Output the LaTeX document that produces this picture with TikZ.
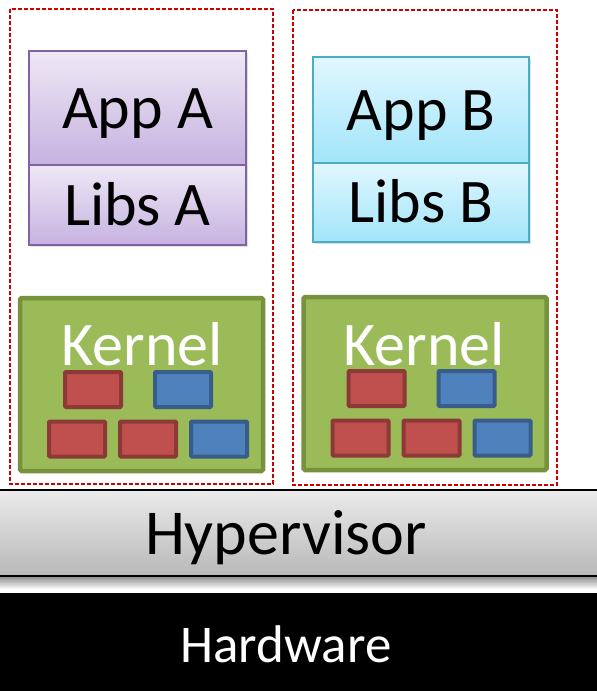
\documentclass[tikz,border=0pt]{standalone}
\usepackage{fontspec}
\setmainfont{Carlito}
\usetikzlibrary{positioning, shadows, calc}

\definecolor{vmred}{HTML}{CC0000}
\definecolor{appAtop}{HTML}{EEE8F6}
\definecolor{appAbot}{HTML}{C6B2E0}
\definecolor{appAline}{HTML}{8064A2}
\definecolor{appBtop}{HTML}{E0F7FE}
\definecolor{appBbot}{HTML}{A2E5FA}
\definecolor{appBline}{HTML}{4BACC6}
\definecolor{kerfill}{HTML}{9BBB59}
\definecolor{kerline}{HTML}{76923C}
\definecolor{redfill}{HTML}{C0504D}
\definecolor{redline}{HTML}{8C3A38}
\definecolor{bluefill}{HTML}{4F81BD}
\definecolor{blueline}{HTML}{385D8A}
\definecolor{hyptop}{HTML}{EBEBEB}
\definecolor{hypbot}{HTML}{B8B8B8}

\begin{document}
\begin{tikzpicture}[x=1pt, y=-1pt,
    big/.style={font=\fontsize{62}{62}\selectfont, text height=40pt, text depth=0pt},
    vmbox/.style={draw=vmred, line width=1.3pt, dash pattern=on 4pt off 2pt},
    appa/.style={big, draw=appAline, line width=1.5pt, top color=appAtop, bottom color=appAbot,
        inner sep=0pt, outer sep=0pt, minimum width=217pt,
        drop shadow={opacity=0.25, shadow xshift=2pt, shadow yshift=-2pt}},
    appb/.style={big, draw=appBline, line width=1.5pt, top color=appBtop, bottom color=appBbot,
        inner sep=0pt, outer sep=0pt, minimum width=216pt,
        drop shadow={opacity=0.25, shadow xshift=2pt, shadow yshift=-2pt}},
    kernel/.style={draw=kerline, fill=kerfill, line width=4.5pt, rounded corners=1.5pt,
        minimum width=243pt, minimum height=173pt, inner sep=0pt},
    kertext/.style={font=\fontsize{62}{62}\selectfont, text=white, anchor=base, inner sep=0pt},
    redblk/.style={draw=redline, fill=redfill, line width=4pt, rounded corners=1pt,
        minimum width=56pt, minimum height=35pt, inner sep=0pt},
    blueblk/.style={redblk, draw=blueline, fill=bluefill},
]
\useasboundingbox (0,0) rectangle (597,691);

% the two virtual machines
\draw[vmbox] (10,9) rectangle (273,484);
\draw[vmbox] (293,10) rectangle (557,485);

% user space of each guest
\node[appa, minimum height=114pt, anchor=north west] (appA) at (29,51) {App A};
\node[appa, minimum height=80pt, below=0pt of appA] (libsA) {Libs A};
\node[appb, minimum height=106pt, anchor=north west] (appB) at (313,57) {App B};
\node[appb, minimum height=79pt, below=0pt of appB] (libsB) {Libs B};

% guest kernels
\node[kernel] (kernA) at (141.5,384.5) {};
\node[kernel] (kernB) at (425,383.5) {};
\node[kertext] (kerA) at ($(kernA.center)+(0.5,-19.5)$) {Kernel};
\node[kertext] (kerB) at ($(kernB.center)+(-1,-18.5)$) {Kernel};

\foreach \k in {kernA, kernB} {
    \node[redblk]  (\k-r1) at ($(\k.center)+(-48.5,5)$) {};
    \node[blueblk] (\k-b1) at ($(\k.center)+(41.5,5)$) {};
    \node[redblk]  (\k-r2) at ($(\k.center)+(-64.5,54.5)$) {};
    \node[redblk]  (\k-r3) at ($(\k.center)+(6.5,54.5)$) {};
    \node[blueblk] (\k-b2) at ($(\k.center)+(77.5,54.5)$) {};
}

% hypervisor and hardware
\node[font=\fontsize{64}{64}\selectfont, text height=42pt, text depth=0pt,
    top color=hyptop, bottom color=hypbot, minimum width=800pt, minimum height=86pt,
    inner sep=0pt] (hyp) at (286,533) {Hypervisor};
% soft shadow under the hypervisor bar
\shade[top color=black!45, bottom color=white] (hyp.south west) rectangle ($(hyp.south east)+(0,13)$);
\draw[line width=2pt] (hyp.north west) -- (hyp.north east);
\draw[line width=2pt] (hyp.south west) -- (hyp.south east);
\node[fill=black, text=white, font=\fontsize{53}{53}\selectfont, text height=35pt, text depth=0pt,
    minimum width=800pt, minimum height=104pt, inner sep=0pt] (hw) at (286,644.5) {Hardware};
\end{tikzpicture}
\end{document}
